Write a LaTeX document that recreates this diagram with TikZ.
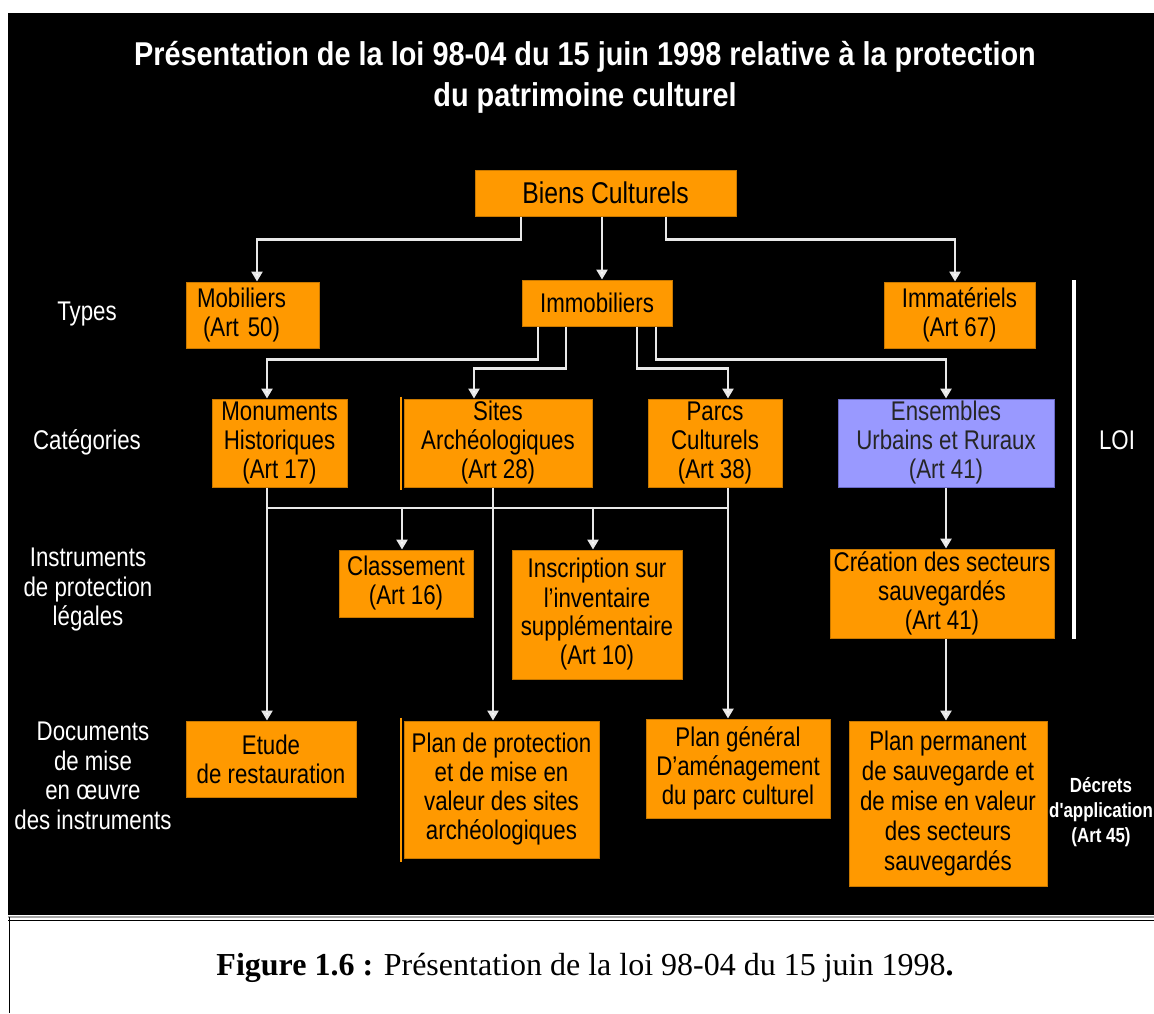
\documentclass[tikz,border=0pt]{standalone}
\usepackage{fontspec}
\setmainfont{Liberation Serif}
\newfontfamily\boxfont[FakeStretch=0.825]{Liberation Sans}
\newfontfamily\titlefont[FakeStretch=0.875]{Liberation Sans}
\usetikzlibrary{arrows.meta}
\definecolor{orF}{HTML}{FF9900}
\definecolor{orD}{HTML}{C87800}
\definecolor{blF}{HTML}{9999FF}
\definecolor{blD}{HTML}{6A6AC8}
\definecolor{lnC}{HTML}{E8E8E8}
\begin{document}
\begin{tikzpicture}[x=1pt,y=-1pt,
 box/.style={draw=orD, fill=orF, line width=1pt, inner sep=0pt, align=center, text=black, font=\boxfont\fontsize{27}{29}\selectfont},
 bbox/.style={box, draw=blD, fill=blF, text=black!85},
 sz/.style 2 args={minimum width=#1pt, minimum height=#2pt},
 lab/.style={text=white, align=center, inner sep=0pt, font=\boxfont\fontsize{27}{29.5}\selectfont},
 arr/.style={draw=lnC, line width=2.5pt, -{Triangle[width=11pt,length=10pt,fill=white]}},
 ln/.style={draw=lnC, line width=2.5pt},
 obar/.style={draw=orF, line width=2pt},
]
\useasboundingbox (0,0) rectangle (1154,1013);
\fill[white] (0,0) rectangle (1154,1013);
\fill[black] (8,13) rectangle (1154,915);
% caption frame
\draw[gray!70, line width=1.5pt] (8,917) -- (1154,917);
\draw[black, line width=1pt] (8,920.5) -- (1154,920.5);
\draw[black, line width=1pt] (9,917) -- (9,1013);

% title
\node[text=white, align=center, inner sep=0pt, font=\titlefont\bfseries\fontsize{33}{41}\selectfont] (title) at (585,77)
 {Présentation de la loi 98-04 du 15 juin 1998 relative à la protection\\du patrimoine culturel};

% row labels
\node[lab] (types) at (87,314) {Types};
\node[lab] (cat) at (87,442) {Catégories};
\node[lab] (instr) at (88,590) {Instruments\\de protection\\légales};
\node[lab] (docs) at (93,776) {Documents\\de mise\\en œuvre\\des instruments};
\node[lab] (loi) at (1117,440) {LOI};
\node[lab, font=\boxfont\bfseries\fontsize{20.5}{25}\selectfont] (decr) at (1101,812) {Décrets\\d'application\\(Art 45)};
\draw[white, line width=4pt] (1074,280) -- (1074,639);

% boxes
\node[box, sz={261}{46}, font=\boxfont\fontsize{30}{32}\selectfont] (biens) at (605.5,193) {Biens Culturels};
\node[box, sz={133}{66}, text width=111pt, inner xsep=11pt, align=left] (mob) at (252.5,315) {Mobiliers\\\hspace*{6pt}(Art 50)};
\node[box, sz={150}{46}] (immo) at (597,303) {Immobiliers};
\node[box, sz={151}{66}] (immat) at (959.5,315) {Immatériels\\(Art 67)};
\node[box, sz={135}{88}] (monu) at (279.5,443) {Monuments\\Historiques\\(Art 17)};
\node[box, sz={188}{88}] (sites) at (498,443) {Sites\\Archéologiques\\(Art 28)};
\node[box, sz={134}{88}] (parcs) at (715,443) {Parcs\\Culturels\\(Art 38)};
\node[bbox, sz={216}{88}] (ens) at (946,443) {Ensembles\\Urbains et Ruraux\\(Art 41)};
\node[box, sz={134}{67}] (classe) at (406,583.5) {Classement\\(Art 16)};
\node[box, sz={170}{129}] (inscr) at (597,614.5) {Inscription sur\\l’inventaire\\supplémentaire\\(Art 10)};
\node[box, sz={224}{89}] (crea) at (942,593.5) {Création des secteurs\\sauvegardés\\(Art 41)};
\node[box, sz={170}{76}] (etude) at (271,759) {Etude\\de restauration};
\node[box, sz={195}{137}] (planprot) at (501.5,789.5) {Plan de protection\\et de mise en\\valeur des sites\\archéologiques};
\node[box, sz={184}{99}] (plangen) at (738,768.5) {Plan général\\D’aménagement\\du parc culturel};
\node[box, sz={198}{165}, font=\boxfont\fontsize{27}{30}\selectfont] (planperm) at (948,803.5) {Plan permanent\\de sauvegarde et\\de mise en valeur\\des secteurs\\sauvegardés};

% orange side bars
\draw[obar] ([shift={(-3pt,2pt)}]sites.north west) -- ([shift={(-3pt,-2pt)}]sites.south west);
\draw[obar] ([shift={(-3pt,3pt)}]planprot.north west) -- ([shift={(-3pt,-3pt)}]planprot.south west);

% connectors from Biens Culturels
\coordinate (b1) at ([xshift=-84.5pt]biens.south);
\draw[arr] (b1) -- ++(0,23) -| ([xshift=4.5pt]mob.north);
\coordinate (b2) at ([xshift=-3.5pt]biens.south);
\draw[arr] (b2) -- (b2 |- immo.north);
\coordinate (b3) at ([xshift=60.5pt]biens.south);
\draw[arr] (b3) -- ++(0,23) -| ([xshift=-4.5pt]immat.north);

% connectors from Immobiliers
\coordinate (i1) at ([xshift=-59pt]immo.south);
\draw[arr] (i1) -- ++(0,33) -| ([xshift=-12.5pt]monu.north);
\coordinate (i2) at ([xshift=-31pt]immo.south);
\draw[arr] (i2) -- ++(0,42) -| ([xshift=-24pt]sites.north);
\coordinate (i3) at ([xshift=40pt]immo.south);
\draw[arr] (i3) -- ++(0,42) -| ([xshift=13pt]parcs.north);
\coordinate (i4) at ([xshift=59pt]immo.south);
\draw[arr] (i4) -- ++(0,33) -| (ens.north);

% categories to instruments / documents
\coordinate (m1) at ([xshift=-12.5pt]monu.south);
\draw[arr] (m1) -- (m1 |- etude.north);
\coordinate (p1) at ([xshift=13pt]parcs.south);
\draw[arr] (p1) -- (p1 |- plangen.north);
\coordinate (s1) at ([xshift=-5pt]sites.south);
\draw[arr] (s1) -- (s1 |- planprot.north);
\coordinate (hL) at (267,508);
\coordinate (hR) at (728,508);
\draw[ln] (hL) -- (hR);
\coordinate (c1) at (402,508);
\draw[arr] (c1) -- (c1 |- classe.north);
\coordinate (c2) at (593,508);
\draw[arr] (c2) -- (c2 |- inscr.north);
\coordinate (e1) at (ens.south);
\draw[arr] (e1) -- (e1 |- crea.north);
\coordinate (e2) at ([xshift=4pt]crea.south);
\draw[arr] (e2) -- (e2 |- planperm.north);

% caption
\node[inner sep=0pt, font=\fontsize{32}{38}\selectfont] (cap) at (585,968) {\textbf{Figure 1.6 :} Présentation de la loi 98-04 du 15 juin 1998\textbf{.}};
\end{tikzpicture}
\end{document}
